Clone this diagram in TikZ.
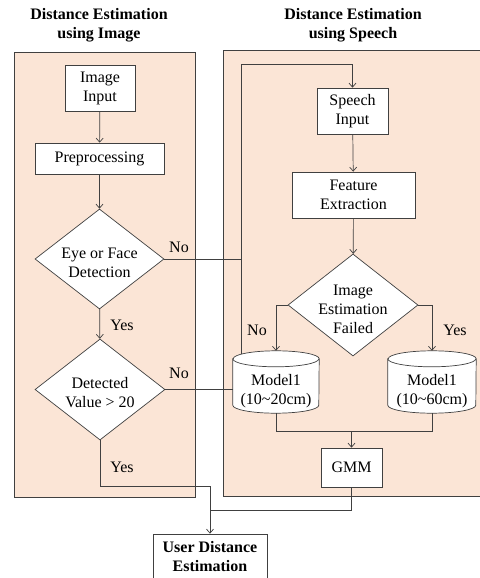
\documentclass[tikz,border=0pt]{standalone}
\usepackage{fontspec}
\setmainfont{Liberation Serif}
\usetikzlibrary{shapes.geometric,arrows.meta}
\definecolor{peach}{HTML}{FBE5D6}
\definecolor{ln}{HTML}{404040}
\begin{document}
\begin{tikzpicture}[x=1pt,y=-1pt,
  every node/.style={font=\fontsize{16}{19}\selectfont, text=black},
  box/.style={draw=ln, fill=white, line width=0.7pt, align=center, inner sep=0pt},
  dia/.style={draw=ln, fill=white, diamond, line width=0.7pt, inner sep=0pt},
  txt/.style={align=center, inner sep=0pt},
  bold/.style={font=\bfseries\fontsize{16}{19}\selectfont},
  lbl/.style={inner sep=0pt},
  cyl/.style={inner sep=0pt, minimum height=62pt},
  conn/.style={draw=ln, line width=0.7pt},
  arr/.style={conn, -{Straight Barb[length=4pt,width=7pt]}},
  panel/.style={draw=ln, fill=peach, line width=0.7pt}]
\useasboundingbox (0,0) rectangle (479,578);

% panels
\path[panel] (14,52) rectangle (195,497);
\path[panel] (223,50) rectangle (490,496);

% titles
\node[txt, bold] (t1) at (99,25) {Distance Estimation\\using Image};
\node[txt, bold] (t2) at (353,25) {Distance Estimation\\using Speech};

% left column
\node[box, minimum width=70pt, minimum height=46pt] (ii) at (100,88) {Image\\Input};
\node[box, minimum width=129pt, minimum height=31pt] (pp) at (99.5,158.5) {Preprocessing};
\node[dia, minimum width=129pt, minimum height=100pt] (d1) at (99.5,259) {};
\node[txt] (d1t) at (99.5,263) {Eye or Face\\Detection};
\node[dia, minimum width=130pt, minimum height=101pt] (d2) at (100,389.5) {};
\node[txt] (d2t) at (100,393) {Detected\\Value > 20};

% right column
\node[box, minimum width=71pt, minimum height=46pt] (si) at (352.5,111) {Speech\\Input};
\node[box, minimum width=123pt, minimum height=46pt] (fe) at (353.5,195) {Feature\\Extraction};
\node[dia, minimum width=130pt, minimum height=102pt] (d3) at (353,305) {};
\node[txt] (d3t) at (353,309) {Image\\Estimation\\Failed};

\node[cyl, minimum width=86pt] (m1) at (276,382) {};
\node[cyl, minimum width=88pt] (m2) at (432,382) {};
\draw[conn, fill=white] ([yshift=-8pt]m1.north west) -- ([yshift=8pt]m1.south west)
  arc[start angle=180, end angle=360, x radius=43pt, y radius=8pt]
  -- ([yshift=-8pt]m1.north east)
  arc[start angle=0, end angle=180, x radius=43pt, y radius=8pt] -- cycle;
\draw[conn] ([yshift=-8pt]m1.north west) arc[start angle=180, end angle=360, x radius=43pt, y radius=8pt];
\draw[conn, fill=white] ([yshift=-8pt]m2.north west) -- ([yshift=8pt]m2.south west)
  arc[start angle=180, end angle=360, x radius=44pt, y radius=8pt]
  -- ([yshift=-8pt]m2.north east)
  arc[start angle=0, end angle=180, x radius=44pt, y radius=8pt] -- cycle;
\draw[conn] ([yshift=-8pt]m2.north west) arc[start angle=180, end angle=360, x radius=44pt, y radius=8pt];
\node[txt] (m1t) at (276,391) {Model1\\(10\textasciitilde20cm)};
\node[txt] (m2t) at (432,391) {Model1\\(10\textasciitilde60cm)};

\node[box, minimum width=61pt, minimum height=39pt] (gmm) at (351.5,467.5) {GMM};
\node[box, bold, minimum width=114pt, minimum height=46pt] (ude) at (210,557) {User Distance\\Estimation};

% connectors
\draw[arr] (ii) -- (pp);
\draw[arr] (pp) -- (d1);
\draw[arr] (d1) -- (d2);
\draw[arr] (si) -- (fe);
\draw[arr] (fe) -- (d3);
\draw[arr] (d3.west) -| (m1.north);
\draw[arr] (d3.east) -| (m2.north);
\coordinate (j1) at (351.5,431);
\draw[conn] (m1.south) |- (j1);
\draw[conn] (m2.south) |- (j1);
\draw[arr] (j1) -- (gmm.north);
\coordinate (lt) at (241,64);
\coordinate (lb) at (241,354.4);
\draw[arr] (lb) -- (lt) -| (si.north);
\draw[conn] (d1.east) -- (d1.east -| lt);
\draw[conn] (d2.east) -- (d2.east -| m1.west);
\coordinate (j2) at (210,510);
\coordinate (j3) at (210,486);
\draw[conn] (gmm.south) |- (j2);
\draw[conn] (d2.south) |- (j3) -- (j2);
\draw[arr] (j2) -- (ude.north);

% labels
\node[lbl] (n1) at (179,247) {No};
\node[lbl] (y1) at (122,325) {Yes};
\node[lbl] (n2) at (179,373) {No};
\node[lbl] (y2) at (122,467) {Yes};
\node[lbl] (n3) at (257,330) {No};
\node[lbl] (y3) at (455,330) {Yes};
\end{tikzpicture}
\end{document}
